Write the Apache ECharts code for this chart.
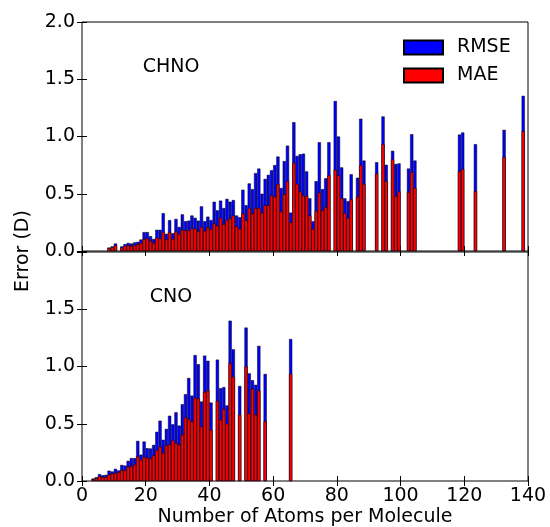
<!DOCTYPE html>
<html>
<head>
<meta charset="utf-8">
<script src="https://cdn.jsdelivr.net/npm/echarts@6/dist/echarts.min.js"></script>
<style>html,body{margin:0;padding:0;background:#fff}#c{width:550px;height:527px}</style>
</head>
<body>
<div id="c"></div>
<script>
// CHNO panel (top)
const chnoAtoms = [8,9,10,12,13,14,15,16,17,18,19,20,21,22,23,24,25,26,27,28,29,30,31,32,33,34,35,36,37,38,39,40,41,42,43,44,45,46,47,48,49,50,51,52,53,54,55,56,57,58,59,60,61,62,63,64,65,66,67,68,69,70,71,72,73,74,75,76,77,79,80,81,82,83,84,86,87,88,92,94,95,97,98,99,102,103,104,118,119,123,132,138];
const chnoRmse = [0.03,0.04,0.065,0.04,0.06,0.07,0.065,0.075,0.08,0.10,0.165,0.165,0.13,0.105,0.185,0.185,0.33,0.15,0.27,0.155,0.28,0.21,0.32,0.26,0.265,0.31,0.29,0.265,0.39,0.26,0.30,0.27,0.43,0.355,0.44,0.375,0.455,0.43,0.445,0.31,0.295,0.535,0.40,0.59,0.54,0.68,0.72,0.50,0.63,0.665,0.705,0.75,0.825,0.55,0.785,0.92,0.335,1.125,0.83,0.845,0.85,0.695,0.46,0.26,0.61,0.95,0.54,0.635,0.95,1.31,1.00,0.73,0.46,0.435,0.67,0.64,1.155,0.79,0.775,1.175,0.753,0.875,0.76,0.765,0.72,1.02,0.79,1.017,1.035,0.933,1.058,1.355];
const chnoMae = [0.025,0.035,0.05,0.03,0.045,0.05,0.045,0.05,0.06,0.07,0.105,0.11,0.09,0.07,0.115,0.11,0.165,0.10,0.165,0.105,0.17,0.15,0.185,0.18,0.18,0.20,0.195,0.175,0.21,0.175,0.205,0.19,0.24,0.22,0.29,0.235,0.27,0.285,0.31,0.215,0.195,0.33,0.27,0.375,0.33,0.375,0.375,0.335,0.40,0.40,0.485,0.475,0.585,0.345,0.495,0.61,0.25,0.77,0.585,0.52,0.485,0.48,0.31,0.19,0.35,0.51,0.355,0.385,0.66,0.71,0.66,0.46,0.33,0.29,0.45,0.475,0.75,0.585,0.675,0.933,0.61,0.80,0.48,0.52,0.515,0.69,0.55,0.697,0.715,0.523,0.82,1.046];

// CNO panel (bottom)
const cnoAtoms = [3,4,5,6,7,8,9,10,11,12,13,14,15,16,17,18,19,20,21,22,23,24,25,26,27,28,29,30,31,32,33,34,35,36,37,38,39,40,42,43,44,45,46,47,49,51,52,53,54,55,57,65];
const cnoRmse = [0.022,0.033,0.06,0.05,0.054,0.09,0.083,0.106,0.092,0.14,0.135,0.176,0.20,0.20,0.35,0.23,0.345,0.286,0.284,0.315,0.43,0.527,0.36,0.455,0.57,0.495,0.60,0.484,0.67,0.758,0.90,0.746,1.10,1.02,0.694,1.095,1.05,0.685,1.06,0.81,0.82,0.66,1.40,1.15,0.83,1.34,0.94,0.88,0.84,1.18,0.935,1.24];
const cnoMae = [0.016,0.025,0.042,0.035,0.035,0.057,0.065,0.07,0.077,0.094,0.094,0.124,0.13,0.144,0.214,0.185,0.21,0.205,0.196,0.225,0.27,0.30,0.245,0.313,0.32,0.356,0.333,0.318,0.405,0.557,0.542,0.52,0.726,0.72,0.476,0.778,0.79,0.446,0.70,0.535,0.63,0.50,1.03,0.91,0.58,1.00,0.59,0.805,0.58,0.79,0.52,0.935];

const seriesNames = ['RMSE', 'MAE'];
const panelLabels = ['CHNO', 'CNO'];

const FONT = 'DejaVu Sans';
const FS = 19;
// bars drawn edge-aligned (bar spans n .. n+1), as in the original plot
const toPts = (atoms, vals) => atoms.map((n, i) => [n + 0.5, vals[i]]);

const tickCommon = {
  axisLine: { show: false },
  axisTick: { show: true, inside: true, length: 5, lineStyle: { color: '#000', width: 1 } },
  splitLine: { show: false }
};
function xAx(grid, pos, labels) {
  return Object.assign({
    type: 'value', gridIndex: grid, position: pos, min: 0, max: 140, interval: 20,
    axisLabel: { show: labels, color: '#000', fontFamily: FONT, fontSize: FS, margin: 6 }
  }, tickCommon);
}
function yAx(grid, pos, labels, hideTop) {
  return Object.assign({
    type: 'value', gridIndex: grid, position: pos, min: 0, max: 2, interval: 0.5,
    axisLabel: { show: labels, color: '#000', fontFamily: FONT, fontSize: FS, margin: 7,
      formatter: v => (hideTop && v >= 2) ? '' : v.toFixed(1) }
  }, tickCommon);
}
const barW = 3.2;
function barSeries(name, color, x, y, data) {
  return {
    name, type: 'bar', xAxisIndex: x, yAxisIndex: y, data,
    barWidth: barW, barGap: '-100%',
    itemStyle: { color, borderColor: '#000', borderWidth: 0.5 },
    emphasis: { disabled: true }, animation: false
  };
}
const txt = (text, x, y, rot) => ({
  type: 'text', x, y, rotation: rot || 0,
  style: { text, textAlign: 'center', textVerticalAlign: 'middle', font: FS + 'px "' + FONT + '"', fill: '#000' }
});

const chart = echarts.init(document.getElementById('c'), null, { renderer: 'canvas' });
chart.setOption({
  backgroundColor: '#fff',
  animation: false,
  grid: [
    { left: 82, right: 22, top: 22, height: 229, show: true, borderColor: '#000', borderWidth: 1, backgroundColor: 'transparent' },
    { left: 82, right: 22, top: 252, height: 229, show: true, borderColor: '#000', borderWidth: 1, backgroundColor: 'transparent' }
  ],
  xAxis: [xAx(0, 'bottom', false), xAx(0, 'top', false), xAx(1, 'bottom', true), xAx(1, 'top', false)],
  yAxis: [yAx(0, 'left', true, false), yAx(0, 'right', false, false), yAx(1, 'left', true, true), yAx(1, 'right', false, false)],
  legend: {
    data: seriesNames, orient: 'vertical', left: 403, top: 38, padding: 0,
    itemWidth: 39, itemHeight: 14, itemGap: 9, icon: 'rect',
    textStyle: { color: '#000', fontFamily: FONT, fontSize: FS, padding: [0, 0, 0, 9] }
  },
  series: [
    barSeries(seriesNames[0], '#0000ff', 0, 0, toPts(chnoAtoms, chnoRmse)),
    barSeries(seriesNames[1], '#ff0000', 0, 0, toPts(chnoAtoms, chnoMae)),
    barSeries(seriesNames[0], '#0000ff', 2, 2, toPts(cnoAtoms, cnoRmse)),
    barSeries(seriesNames[1], '#ff0000', 2, 2, toPts(cnoAtoms, cnoMae))
  ],
  graphic: [
    txt(panelLabels[0], 171, 67),
    txt(panelLabels[1], 171, 297),
    txt('Error (D)', 23, 251, Math.PI / 2),
    txt('Number of Atoms per Molecule', 305, 517)
  ]
});
</script>
</body>
</html>
